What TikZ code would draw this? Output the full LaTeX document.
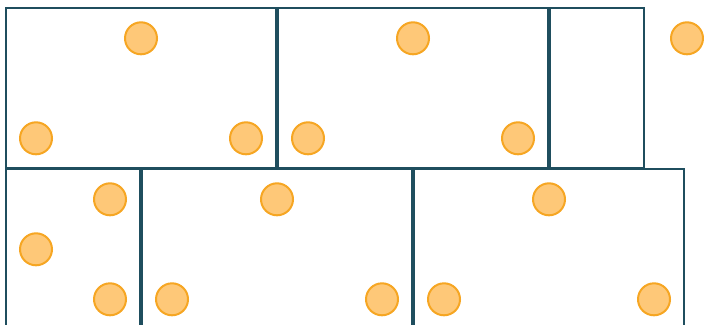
\documentclass[tikz,border=0pt]{standalone}
\usetikzlibrary{positioning}
\definecolor{tealdark}{RGB}{31,78,94}
\definecolor{dotfill}{RGB}{254,200,120}
\definecolor{dotline}{RGB}{246,166,35}
\tikzset{
  cell/.style={
    draw=tealdark,
    line width=2pt,
    minimum height=160pt,
    inner sep=0pt
  },
  dot/.style={
    circle,
    draw=dotline,
    fill=dotfill,
    line width=2pt,
    minimum size=32pt,
    inner sep=0pt
  }
}

\begin{document}
\begin{tikzpicture}[x=1pt,y=-1pt]
  \useasboundingbox (0,0) rectangle (704,324);
  \clip (0,0) rectangle (704,324);

  % Top row
  \node[cell,minimum width=270pt] (cellA) at (141,87.5) {};
  \node[cell,minimum width=270pt] (cellB) at (413,87.5) {};
  \node[cell,minimum width=94pt] (cellC) at (597,87.5) {};

  % Bottom row
  \node[cell,minimum width=134pt] (cellD) at (73,249) {};
  \node[cell,minimum width=270pt] (cellE) at (277,249) {};
  \node[cell,minimum width=270pt] (cellF) at (549,249) {};

  % Dots, top row
  \node[dot] (dotA1) at (141,38.3) {};
  \node[dot] (dotA2) at (36,138.3) {};
  \node[dot] (dotA3) at (246,138.3) {};
  \node[dot] (dotB1) at (413,38.3) {};
  \node[dot] (dotB2) at (308,138.3) {};
  \node[dot] (dotB3) at (518,138.3) {};
  \node[dot] (dotC1) at (687,38.3) {};

  % Dots, bottom row
  \node[dot] (dotD1) at (110,199.3) {};
  \node[dot] (dotD2) at (36,249.3) {};
  \node[dot] (dotD3) at (110,299.3) {};
  \node[dot] (dotE1) at (277,199.3) {};
  \node[dot] (dotE2) at (172,299.3) {};
  \node[dot] (dotE3) at (382,299.3) {};
  \node[dot] (dotF1) at (549,199.3) {};
  \node[dot] (dotF2) at (444,299.3) {};
  \node[dot] (dotF3) at (654,299.3) {};
\end{tikzpicture}
\end{document}
